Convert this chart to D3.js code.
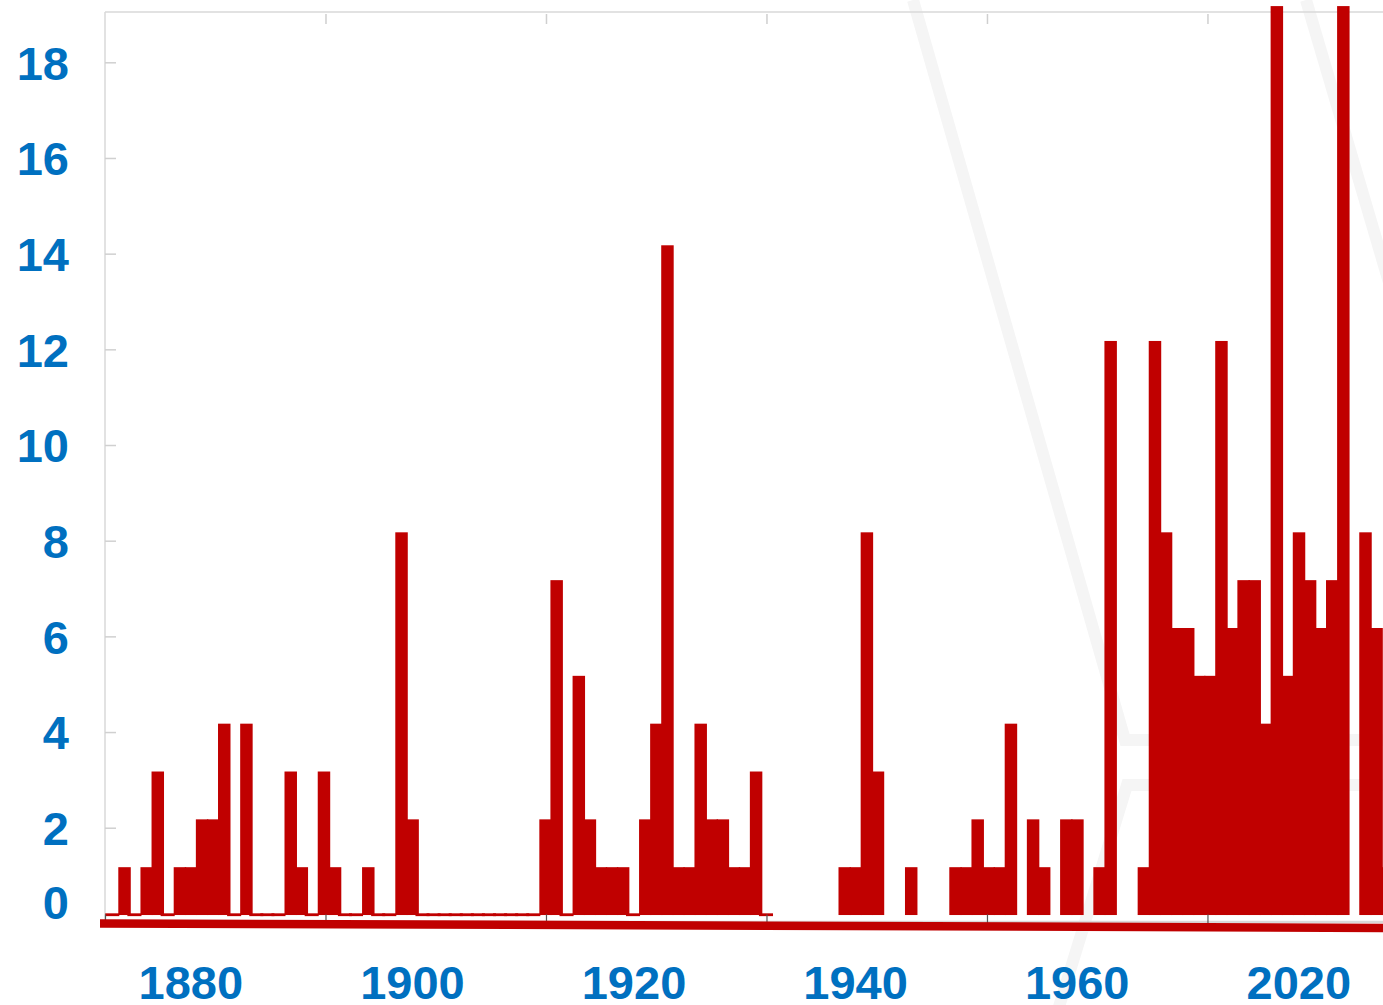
<!doctype html>
<html>
<head>
<meta charset="utf-8">
<title>Bars by year</title>
<script src="https://cdn.jsdelivr.net/npm/d3@7"></script>
<style>
  body { margin: 0; background: #fff; }
  svg { display: block; }
  .tick text { font-family: 'Liberation Sans', Arial, sans-serif; font-weight: bold; font-size: 47px; fill: #0070C0; }
</style>
</head>
<body>
<div id="chart-area"></div>
<script>
  // data: one value per year, null = no record
  var years = d3.range(1873, 1989);
  var counts = [
    0, 1, 0, 1, 3, 0, 1, 1, 2, 2,          // 1873-1882
    4, 0, 4, 0, 0, 0, 3, 1, 0, 3,          // 1883-1892
    1, 0, 0, 1, 0, 0, 8, 2, 0, 0,          // 1893-1902
    0, 0, 0, 0, 0, 0, 0, 0, 0, 2,          // 1903-1912
    7, 0, 5, 2, 1, 1, 1, 0, 2, 4,          // 1913-1922
    14, 1, 1, 4, 2, 2, 1, 1, 3, 0,         // 1923-1932
    null, null, null, null, null, null, 1, 1, 8, 3,   // 1933-1942
    null, null, 1, null, null, null, 1, 1, 2, 1,      // 1943-1952
    1, 4, null, 2, 1, null, 2, 2, null, 1,            // 1953-1962
    12, null, null, 1, 12, 8, 6, 6, 5, 5,             // 1963-1972
    12, 6, 7, 7, 4, 19, 5, 8, 7, 6,                   // 1973-1982
    7, 19, null, 8, 6, 1                              // 1983-1988
  ];
  var yTicks = [0, 2, 4, 6, 8, 10, 12, 14, 16, 18];
  var labelYears = [1880, 1900, 1920, 1940, 1960, 1980];
  var labelTexts = ['1880', '1900', '1920', '1940', '1960', '2020'];

  var data = years.map(function(d, i) {
    return {year: d, value: counts[i]};
  });

  var W = 1383, H = 1005;
  var red = '#C00000';
  var xStart = 1872.8;
  var barBase = 0.175;   // bars sit a little above the zero line

  var svg = d3.select('#chart-area')
      .append('svg')
      .attr('width', W)
      .attr('height', H);

  // Scales
  var x = d3.scaleLinear()
      .domain([xStart, 1989])
      .range([105, 105 + (1989 - xStart) * 11.08]);
  var y = d3.scaleLinear()
      .domain([0, 18])
      .range([923.4, 62.3]);

  var gridYears = d3.range(0, 6).map(function(k) { return xStart + k * 19.9; });

  // faint watermark strokes in the background
  var wm = [
    [[913, 0], [1125, 740], [1400, 740]],
    [[1058, 1010], [1127, 785], [1400, 785]],
    [[1306, 0], [1400, 320]]
  ];
  svg.append('g')
      .selectAll('path')
      .data(wm)
      .enter()
      .append('path')
      .attr('d', d3.line())
      .attr('fill', 'none')
      .attr('stroke', '#f5f5f5')
      .attr('stroke-width', 12);

  // frame
  svg.append('line')
      .attr('x1', x(xStart)).attr('x2', W)
      .attr('y1', 12).attr('y2', 12)
      .attr('stroke', '#d9d9d9').attr('stroke-width', 1.5);
  svg.append('line')
      .attr('x1', x(xStart)).attr('x2', x(xStart))
      .attr('y1', 12).attr('y2', y(0))
      .attr('stroke', '#d9d9d9').attr('stroke-width', 1.5);
  svg.append('line')
      .attr('x1', x(xStart)).attr('x2', W)
      .attr('y1', y(0) - 1.5).attr('y2', y(0) - 1.5)
      .attr('stroke', '#d9d9d9').attr('stroke-width', 2.5);

  // Bars
  var slot = x(1) - x(0);
  svg.append('g')
      .selectAll('rect')
      .data(data.filter(function(d) { return d.value > 0; }))
      .enter()
      .append('rect')
      .attr('x', function(d) { return x(d.year); })
      .attr('width', slot + 1.4)
      .attr('y', function(d) { return y(d.value + barBase); })
      .attr('height', function(d) { return y(barBase) - y(d.value + barBase); })
      .attr('fill', red);

  // zero years: thin line on the base
  svg.append('g')
      .selectAll('rect')
      .data(data.filter(function(d) { return d.value === 0; }))
      .enter()
      .append('rect')
      .attr('x', function(d) { return x(d.year) - 2; })
      .attr('width', slot + 3)
      .attr('y', y(barBase) - 1.7)
      .attr('height', 2.8)
      .attr('fill', red);

  // Y axis
  var yAxisCall = d3.axisLeft(y)
      .tickValues(yTicks)
      .tickSize(-11)
      .tickPadding(36)
      .tickFormat(function(d) { return d; });
  var yAxisGroup = svg.append('g')
      .attr('transform', 'translate(' + x(xStart) + ',0)')
      .call(yAxisCall);
  yAxisGroup.select('.domain').remove();
  yAxisGroup.selectAll('.tick line').attr('stroke', '#d0d0d0').attr('stroke-width', 1.5);
  yAxisGroup.selectAll('.tick text')
      .attr('dy', function(d) { return d === 0 ? '-0.1em' : '0.36em'; });

  // small tick marks, top and bottom
  var topTicks = svg.append('g')
      .attr('transform', 'translate(0,14)')
      .call(d3.axisBottom(x).tickValues(gridYears.slice(1)).tickSize(10).tickFormat(''));
  topTicks.select('.domain').remove();
  topTicks.selectAll('.tick line').attr('stroke', '#cfcfcf').attr('stroke-width', 1.5);

  var botTicks = svg.append('g')
      .attr('transform', 'translate(0,' + y(0) + ')')
      .call(d3.axisBottom(x).tickValues(gridYears).tickSize(-9).tickFormat(''));
  botTicks.select('.domain').remove();
  botTicks.selectAll('.tick line').attr('stroke', '#555').attr('stroke-width', 1.2);

  // heavy red rule under the axis
  svg.append('line')
      .attr('x1', 100).attr('x2', W)
      .attr('y1', y(0)).attr('y2', y(0) + 4.5)
      .attr('stroke', red)
      .attr('stroke-width', 8.5);

  // X labels
  var xAxisCall = d3.axisBottom(x)
      .tickValues(labelYears.map(function(d) { return d + 0.5; }))
      .tickSize(0)
      .tickPadding(42)
      .tickFormat(function(d, i) { return labelTexts[i]; });
  var xAxisGroup = svg.append('g')
      .attr('transform', 'translate(0,' + y(0) + ')')
      .call(xAxisCall);
  xAxisGroup.select('.domain').remove();
</script>
</body>
</html>
